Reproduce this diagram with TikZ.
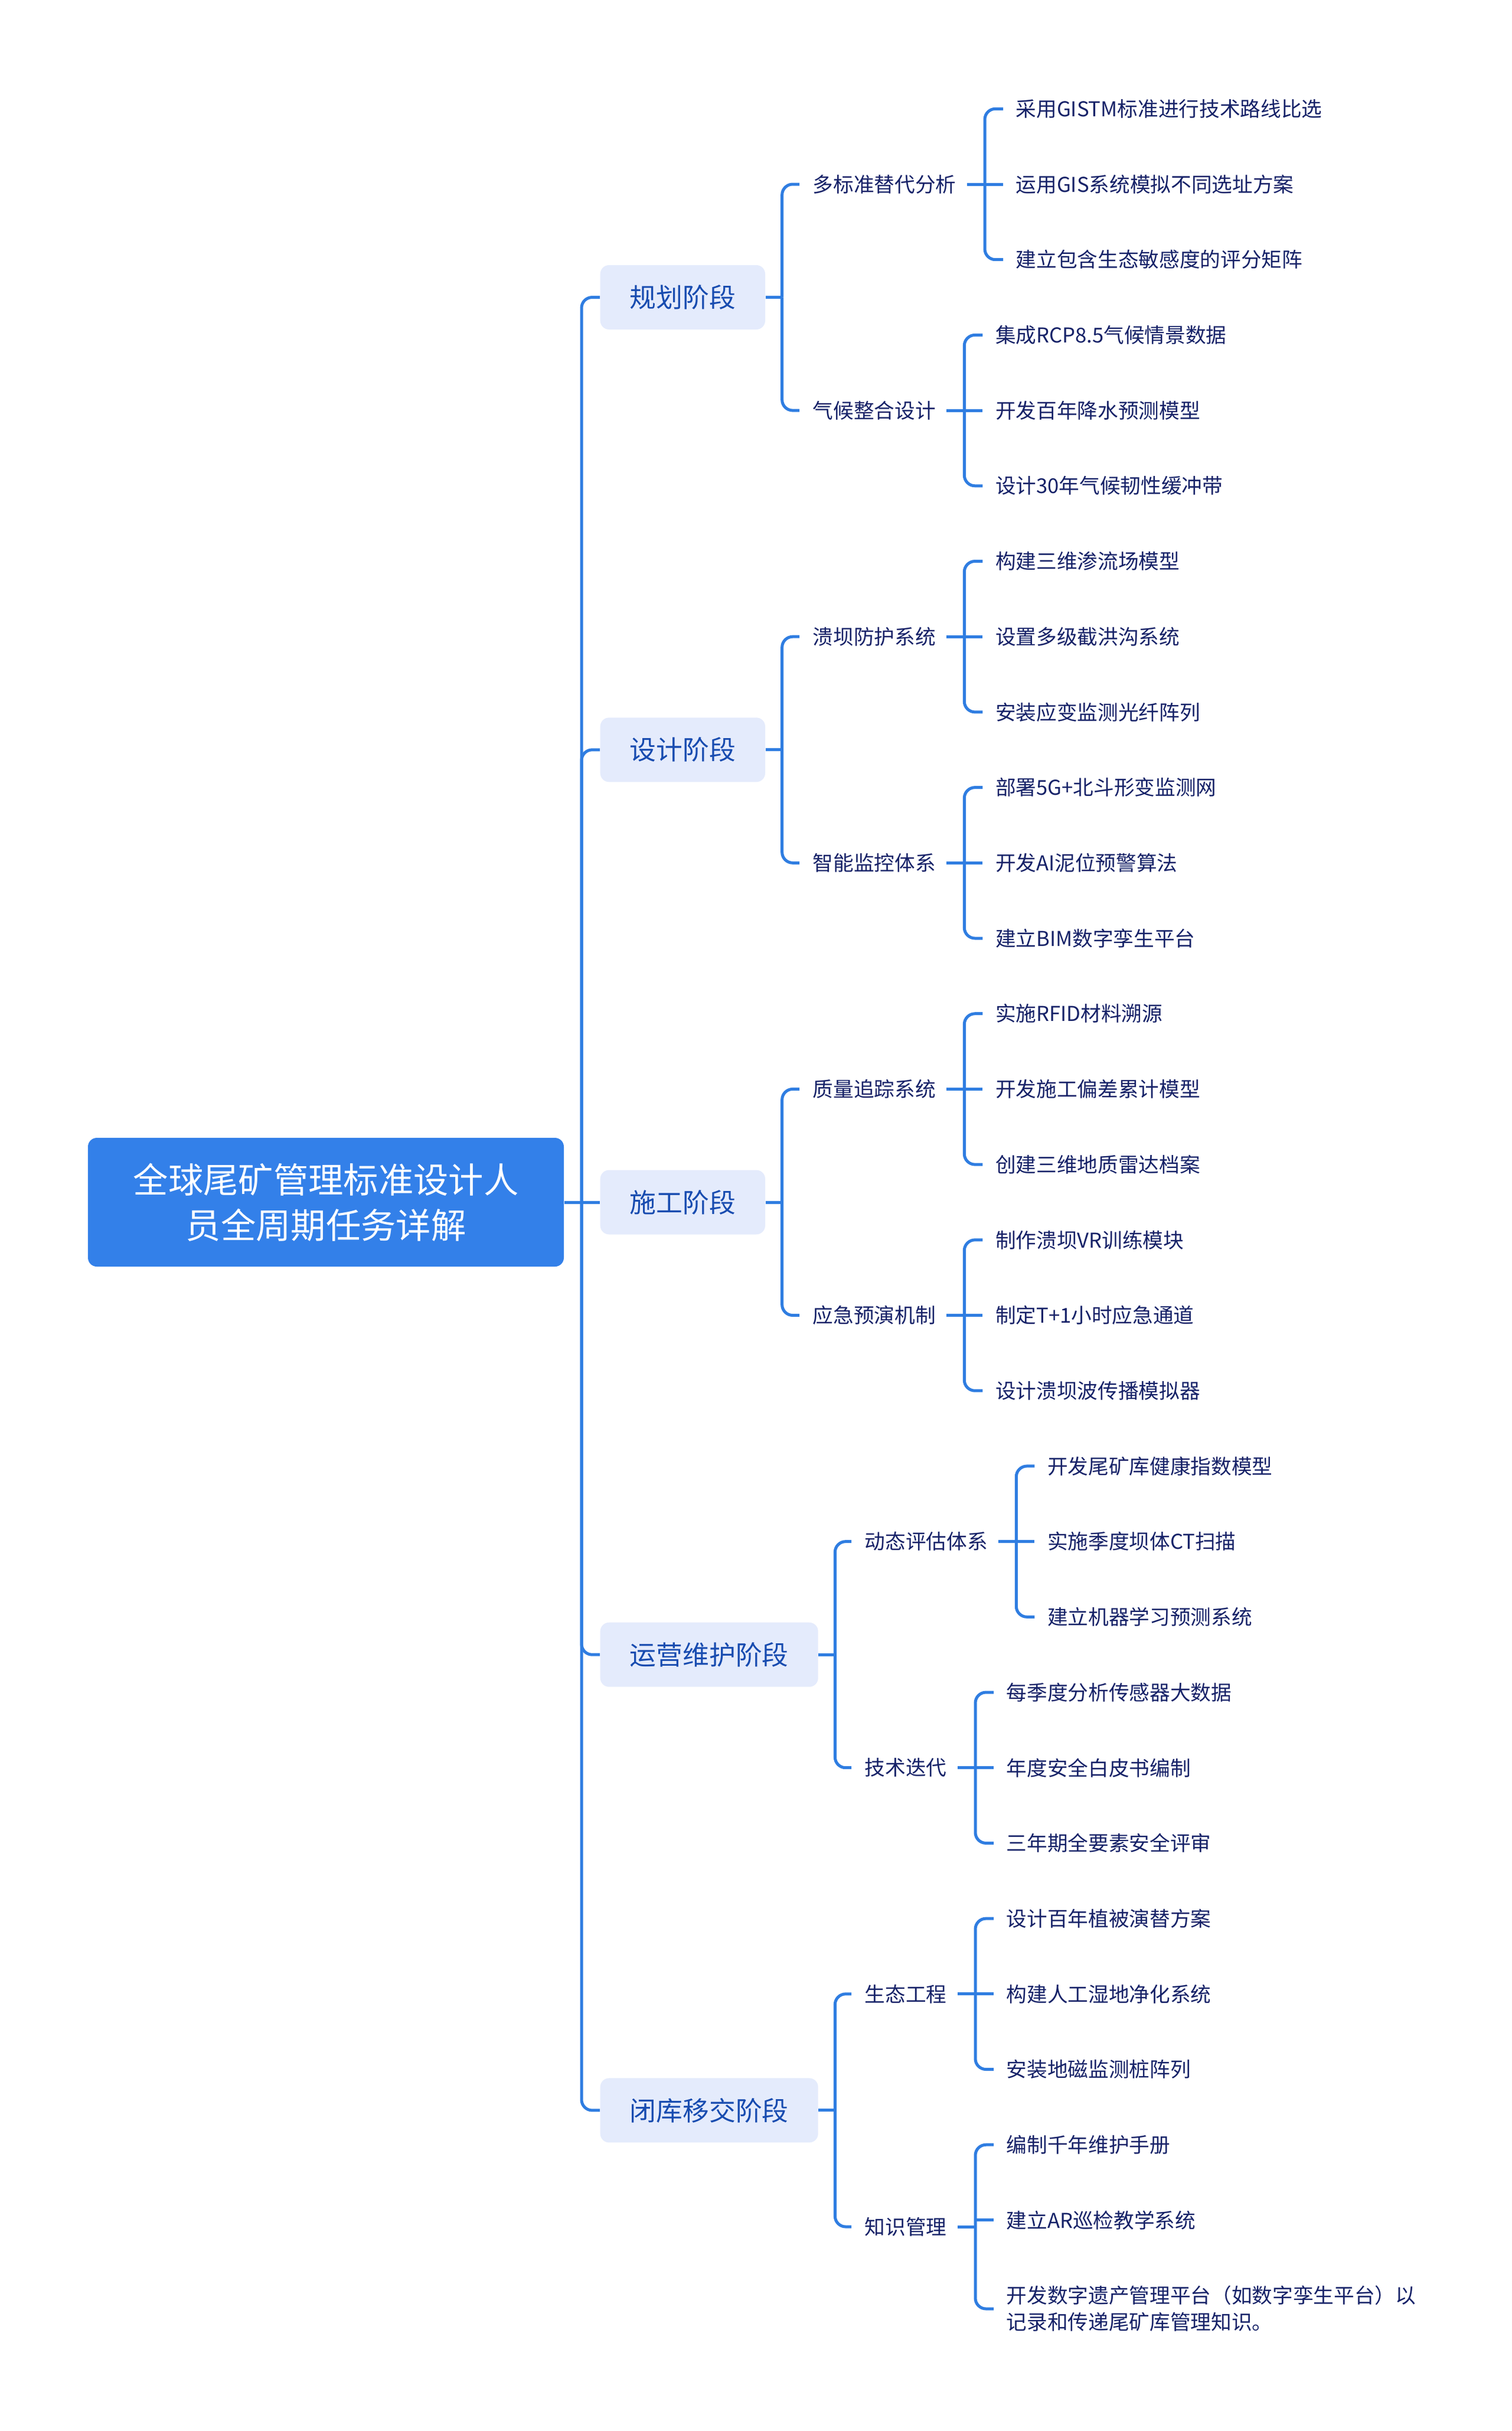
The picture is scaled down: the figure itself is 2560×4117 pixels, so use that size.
\documentclass[tikz,border=0pt]{standalone}
\usepackage{fontspec}
\setmainfont{Noto Sans CJK SC}
\usetikzlibrary{calc}
\definecolor{linec}{RGB}{47,125,225}
\definecolor{rootc}{RGB}{51,128,233}
\definecolor{lvlfill}{RGB}{228,235,252}
\definecolor{lvltext}{RGB}{24,76,176}
\definecolor{leaftext}{RGB}{22,34,104}
\begin{document}
\begin{tikzpicture}[x=0.3pt,y=-0.3pt,
  conn/.style={draw=linec, line width=1.5pt},
  rc/.style={rounded corners=5.4pt},
  rootnode/.style={fill=rootc, rounded corners=4.5pt, text=white, minimum width=241.8pt, minimum height=65.4pt, align=center, inner sep=0pt, font=\fontsize{17.8pt}{23.1pt}\selectfont},
  phasenode/.style={fill=lvlfill, rounded corners=4.5pt, text=lvltext, minimum height=32.7pt, inner xsep=15pt, inner ysep=0pt, anchor=west, font=\fontsize{13.45pt}{16pt}\selectfont},
  subnode/.style={text=leaftext, anchor=west, inner sep=0pt, font=\fontsize{10.4pt}{13.5pt}\selectfont},
  leafnode/.style={subnode, align=left}]
\fill[white] (0,0) rectangle (2560,4117);
\path[use as bounding box] (0,0) rectangle (2560,4117);

% root and phases
\node[rootnode] (root) at (552,2036) {全球尾矿管理标准设计人\\员全周期任务详解};
\node[phasenode] (p1) at (1016,503.5) {规划阶段};
\node[phasenode] (p2) at (1016,1269.8) {设计阶段};
\node[phasenode] (p3) at (1016,2036) {施工阶段};
\node[phasenode] (p4) at (1016,2802.2) {运营维护阶段};
\node[phasenode] (p5) at (1016,3573.9) {闭库移交阶段};

\coordinate (t) at (985,2036);
\draw[conn] (root.east) -- (t);
\draw[conn,rc] (t) |- (p1.west);
\draw[conn,rc] (t) |- (p2.west);
\draw[conn] (t) -- (p3.west);
\draw[conn,rc] (t) |- (p4.west);
\draw[conn,rc] (t) |- (p5.west);

% second level
\node[subnode] (s11) at (1376,312.0) {多标准替代分析};
\node[subnode] (s12) at (1376,695.1) {气候整合设计};
\node[subnode] (s21) at (1376,1078.2) {溃坝防护系统};
\node[subnode] (s22) at (1376,1461.3) {智能监控体系};
\node[subnode] (s31) at (1376,1844.4) {质量追踪系统};
\node[subnode] (s32) at (1376,2227.5) {应急预演机制};
\node[subnode] (s41) at (1464,2610.6) {动态评估体系};
\node[subnode] (s42) at (1464,2993.7) {技术迭代};
\node[subnode] (s51) at (1464,3376.8) {生态工程};
\node[subnode] (s52) at (1464,3771) {知识管理};

\foreach \p/\a/\b in {p1/s11/s12, p2/s21/s22, p3/s31/s32, p4/s41/s42, p5/s51/s52}{
  \coordinate (q\p) at ($(\p.east)+(28,0)$);
  \draw[conn] (\p.east) -- (q\p);
  \draw[conn,rc] (q\p) |- ($(\a.west)+(-22,0)$);
  \draw[conn,rc] (q\p) |- ($(\b.west)+(-22,0)$);
}

% spines of third level
\foreach \s in {s11,s12,s21,s22,s31,s32,s41,s42,s51,s52}{
  \coordinate (c\s) at ($(\s.east)+(48,0)$);
  \draw[conn] ($(\s.east)+(18,0)$) -- (c\s);
}

% leaves
\node[leafnode] (l0) at ($(cs11)+(52,-127.7)$) {采用GISTM标准进行技术路线比选};
\node[leafnode] (l1) at ($(cs11)+(52,0)$) {运用GIS系统模拟不同选址方案};
\node[leafnode] (l2) at ($(cs11)+(52,127.7)$) {建立包含生态敏感度的评分矩阵};
\node[leafnode] (l3) at ($(cs12)+(52,-127.7)$) {集成RCP8.5气候情景数据};
\node[leafnode] (l4) at ($(cs12)+(52,0)$) {开发百年降水预测模型};
\node[leafnode] (l5) at ($(cs12)+(52,127.7)$) {设计30年气候韧性缓冲带};
\node[leafnode] (l6) at ($(cs21)+(52,-127.7)$) {构建三维渗流场模型};
\node[leafnode] (l7) at ($(cs21)+(52,0)$) {设置多级截洪沟系统};
\node[leafnode] (l8) at ($(cs21)+(52,127.7)$) {安装应变监测光纤阵列};
\node[leafnode] (l9) at ($(cs22)+(52,-127.7)$) {部署5G+北斗形变监测网};
\node[leafnode] (l10) at ($(cs22)+(52,0)$) {开发AI泥位预警算法};
\node[leafnode] (l11) at ($(cs22)+(52,127.7)$) {建立BIM数字孪生平台};
\node[leafnode] (l12) at ($(cs31)+(52,-127.7)$) {实施RFID材料溯源};
\node[leafnode] (l13) at ($(cs31)+(52,0)$) {开发施工偏差累计模型};
\node[leafnode] (l14) at ($(cs31)+(52,127.7)$) {创建三维地质雷达档案};
\node[leafnode] (l15) at ($(cs32)+(52,-127.7)$) {制作溃坝VR训练模块};
\node[leafnode] (l16) at ($(cs32)+(52,0)$) {制定T+1小时应急通道};
\node[leafnode] (l17) at ($(cs32)+(52,127.7)$) {设计溃坝波传播模拟器};
\node[leafnode] (l18) at ($(cs41)+(52,-127.7)$) {开发尾矿库健康指数模型};
\node[leafnode] (l19) at ($(cs41)+(52,0)$) {实施季度坝体CT扫描};
\node[leafnode] (l20) at ($(cs41)+(52,127.7)$) {建立机器学习预测系统};
\node[leafnode] (l21) at ($(cs42)+(52,-127.7)$) {每季度分析传感器大数据};
\node[leafnode] (l22) at ($(cs42)+(52,0)$) {年度安全白皮书编制};
\node[leafnode] (l23) at ($(cs42)+(52,127.7)$) {三年期全要素安全评审};
\node[leafnode] (l24) at ($(cs51)+(52,-127.7)$) {设计百年植被演替方案};
\node[leafnode] (l25) at ($(cs51)+(52,0)$) {构建人工湿地净化系统};
\node[leafnode] (l26) at ($(cs51)+(52,127.7)$) {安装地磁监测桩阵列};
\node[leafnode] (l27) at ($(cs52)+(52,-138.8)$) {编制千年维护手册};
\node[leafnode] (l28) at ($(cs52)+(52,-11.1)$) {建立AR巡检教学系统};
\node[leafnode] (l29) at ($(cs52)+(52,139)$) {开发数字遗产管理平台（如数字孪生平台）以\\记录和传递尾矿库管理知识。};

\foreach \s/\a/\m/\b in {s11/l0/l1/l2, s12/l3/l4/l5, s21/l6/l7/l8, s22/l9/l10/l11, s31/l12/l13/l14, s32/l15/l16/l17, s41/l18/l19/l20, s42/l21/l22/l23, s51/l24/l25/l26, s52/l27/l28/l29}{
  \draw[conn,rc] (c\s) |- ($(\a.west)+(-21,0)$);
  \draw[conn,rc] (c\s) |- ($(\b.west)+(-21,0)$);
  \draw[conn] (c\s |- \m.west) -- ($(\m.west)+(-21,0)$);
}
\end{tikzpicture}
\end{document}
